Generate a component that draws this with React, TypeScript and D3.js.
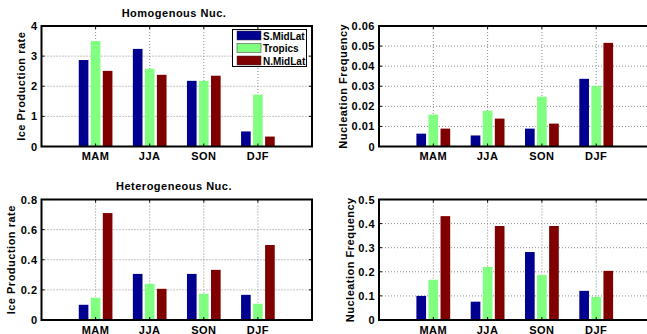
import React from "react";
import * as d3 from "d3";

const categories = ["MAM", "JJA", "SON", "DJF"];
const seriesNames = ["S.MidLat", "Tropics", "N.MidLat"];
const seriesColors = ["#000090", "#80ff80", "#800000"];

const homoRate = [
  [2.87, 3.24, 2.18, 0.5],
  [3.5, 2.58, 2.18, 1.72],
  [2.51, 2.38, 2.35, 0.33],
];
const homoFreq = [
  [0.0064, 0.0055, 0.0089, 0.0337],
  [0.0159, 0.0178, 0.0248, 0.0302],
  [0.0089, 0.0139, 0.0114, 0.0516],
];
const heteroRate = [
  [0.101, 0.306, 0.306, 0.167],
  [0.148, 0.24, 0.174, 0.108],
  [0.71, 0.207, 0.333, 0.498],
];
const heteroFreq = [
  [0.1, 0.076, 0.282, 0.121],
  [0.167, 0.22, 0.187, 0.096],
  [0.431, 0.39, 0.39, 0.204],
];

const ticksHomoRate = [0, 1, 2, 3, 4];
const ticksHomoFreq = [0, 0.01, 0.02, 0.03, 0.04, 0.05, 0.06];
const ticksHeteroRate = [0, 0.2, 0.4, 0.6, 0.8];
const ticksHeteroFreq = [0, 0.1, 0.2, 0.3, 0.4, 0.5];

const FONT = "'Liberation Sans', Arial, Helvetica, sans-serif";

type PanelProps = {
  x0: number;
  x1: number;
  y0: number;
  y1: number;
  data: number[][];
  ticks: number[];
  ymax: number;
  ylabel: string;
  ylabelX: number;
  title?: string;
  titleX?: number;
  titleY?: number;
  legend?: boolean;
  fmt: (v: number) => string;
};

function Panel(p: PanelProps) {
  const x = d3.scaleLinear().domain([0, 5]).range([p.x0, p.x1]);
  const y = d3.scaleLinear().domain([0, p.ymax]).range([p.y1, p.y0]);
  const step = 0.2222;
  const bw = 0.178;
  const tickLen = 3;
  return (
    <g>
      {/* grid */}
      {p.ticks.slice(1, -1).map((t) => (
        <line key={"gy" + t} x1={p.x0} x2={p.x1} y1={y(t)} y2={y(t)} stroke="#8a8a8a" strokeWidth={1} strokeDasharray="1 2" />
      ))}
      {categories.map((c, i) => (
        <line key={"gx" + c} x1={x(i + 1)} x2={x(i + 1)} y1={p.y0} y2={p.y1} stroke="#8a8a8a" strokeWidth={1} strokeDasharray="1 2" />
      ))}
      {/* bars */}
      {p.data.map((s, si) =>
        s.map((v, ci) => {
          const cx = ci + 1 + (si - 1) * step;
          const xl = x(cx - bw / 2);
          const xr = x(cx + bw / 2);
          return (
            <rect key={si + "-" + ci} x={xl} y={y(v)} width={xr - xl} height={y(0) - y(v)} fill={seriesColors[si]} />
          );
        })
      )}
      {/* ticks */}
      {p.ticks.map((t) => (
        <g key={"t" + t}>
          <line x1={p.x0} x2={p.x0 + tickLen} y1={y(t)} y2={y(t)} stroke="#000" strokeWidth={1} />
          <line x1={p.x1} x2={p.x1 - tickLen} y1={y(t)} y2={y(t)} stroke="#000" strokeWidth={1} />
          <text x={p.x0 - 4} y={y(t) + 4} textAnchor="end" fontFamily={FONT} fontWeight="bold" fontSize={11} letterSpacing={0.5} fill="#000">
            {p.fmt(t)}
          </text>
        </g>
      ))}
      {categories.map((c, i) => (
        <g key={"c" + c}>
          <line x1={x(i + 1)} x2={x(i + 1)} y1={p.y1} y2={p.y1 - tickLen} stroke="#000" strokeWidth={1} />
          <line x1={x(i + 1)} x2={x(i + 1)} y1={p.y0} y2={p.y0 + tickLen} stroke="#000" strokeWidth={1} />
          <text x={x(i + 1)} y={p.y1 + 13.5} textAnchor="middle" fontFamily={FONT} fontWeight="bold" fontSize={11} letterSpacing={0.5} fill="#000">
            {c}
          </text>
        </g>
      ))}
      {/* box */}
      <rect x={p.x0} y={p.y0} width={p.x1 - p.x0} height={p.y1 - p.y0} fill="none" stroke="#000" strokeWidth={2} />
      {/* y label */}
      <text
        transform={`translate(${p.ylabelX},${(p.y0 + p.y1) / 2}) rotate(-90)`}
        textAnchor="middle"
        fontFamily={FONT}
        fontWeight="bold"
        fontSize={11}
        letterSpacing={0.5}
        fill="#000"
      >
        {p.ylabel}
      </text>
      {p.title && (
        <text x={p.titleX} y={p.titleY} textAnchor="middle" fontFamily={FONT} fontWeight="bold" fontSize={11} letterSpacing={0.5} fill="#000">
          {p.title}
        </text>
      )}
      {p.legend && (
        <g>
          <rect x={232.5} y={29.5} width={74} height={37} fill="#fff" stroke="#000" strokeWidth={1} />
          {seriesNames.map((n, i) => (
            <g key={n}>
              <rect x={237} y={31 + i * 12.5} width={24} height={9} fill={seriesColors[i]} stroke="#333" strokeWidth={0.5} />
              <text x={263} y={39.5 + i * 12.5} fontFamily={FONT} fontWeight="bold" fontSize={10} fill="#000">
                {n}
              </text>
            </g>
          ))}
        </g>
      )}
    </g>
  );
}

const f1 = (v: number) => d3.format("d")(v);
const f2 = (v: number) => (v === 0 ? "0" : d3.format(".2f")(v));
const f1d = (v: number) => (v === 0 ? "0" : d3.format(".1f")(v));

export default function App() {
  return (
    <svg width={647} height={334} style={{ position: "absolute", left: 0, top: 0, background: "#fff" }}>
      <rect width={647} height={334} fill="#fff" />
      <Panel x0={41.5} x1={312} y0={26} y1={146.5} data={homoRate} ticks={ticksHomoRate} ymax={4} ylabel="Ice Production rate" ylabelX={25} title="Homogenous Nuc." titleX={174} titleY={17} legend fmt={f1} />
      <Panel x0={379} x1={650.5} y0={26} y1={146.5} data={homoFreq} ticks={ticksHomoFreq} ymax={0.06} ylabel="Nucleation Frequency" ylabelX={347} fmt={f2} />
      <Panel x0={41.5} x1={312} y0={199.5} y1={320} data={heteroRate} ticks={ticksHeteroRate} ymax={0.8} ylabel="Ice Production rate" ylabelX={15} title="Heterogeneous Nuc." titleX={174} titleY={190} fmt={f1d} />
      <Panel x0={379} x1={650.5} y0={199.5} y1={320} data={heteroFreq} ticks={ticksHeteroFreq} ymax={0.5} ylabel="Nucleation Frequency" ylabelX={354} fmt={f1d} />
    </svg>
  );
}
